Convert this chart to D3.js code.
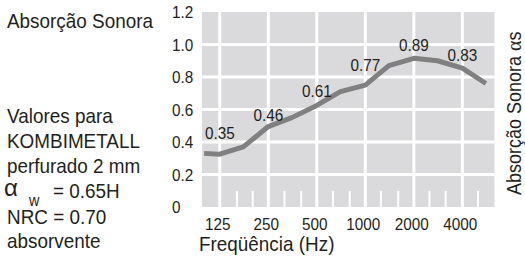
<!DOCTYPE html>
<meta charset="utf-8">
<style>
    body { margin: 0; background: #fff; }
    svg { display: block; }
    text { font-family: "Liberation Sans", Arial, sans-serif; fill: #231f20; }
</style>
<body>
<svg width="525" height="256"></svg>
<script src="https://cdn.jsdelivr.net/npm/d3@7"></script>
<script>
    // curve (Hz, absorption)
    var freqs  = [100, 125, 175, 250, 350, 500, 700, 1000, 1400, 2000, 2800, 4000, 5600]
    var values = [0.33, 0.325, 0.37, 0.495, 0.55, 0.625, 0.71, 0.75, 0.87, 0.915, 0.90, 0.855, 0.76]

    var octaves = [125, 250, 500, 1000, 2000, 4000]
    var thirds  = [160, 200, 315, 400, 630, 800, 1250, 1600, 2500, 3150, 5000]
    var yTicks  = [0, 0.2, 0.4, 0.6, 0.8, 1.0, 1.2]

    var labelFreqs  = [125, 250, 500, 1000, 2000, 4000]
    var labelValues = [0.35, 0.46, 0.61, 0.77, 0.89, 0.83]

    var sideText = ["Valores para", "KOMBIMETALL", "perfurado 2 mm"]

    var svg = d3.select("svg")

    var x = d3.scaleLog().domain([97, 6330]).range([202, 494.5])
    var y = d3.scaleLinear().domain([0, 1.2]).range([207, 12])

    // text helper, font looks condensed so squeeze it a bit
    function label(sel, px, py, s, size, anchor) {
        return sel.append("text")
            .attr("transform", `translate(${px},${py}) scale(0.9,1)`)
            .attr("font-size", size)
            .attr("text-anchor", anchor || "start")
            .text(s)
    }

    // plot background
    svg.append("rect")
        .attr("x", x.range()[0]).attr("y", y.range()[1])
        .attr("width", x.range()[1] - x.range()[0])
        .attr("height", y.range()[0] - y.range()[1])
        .attr("fill", "#dadadc")

    var grid = svg.append("g").attr("stroke", "#fff")
    grid.selectAll(".h").data(yTicks.slice(1, -1)).enter().append("line")
        .attr("x1", x.range()[0]).attr("x2", x.range()[1])
        .attr("y1", d => y(d)).attr("y2", d => y(d))
        .attr("stroke-width", 3)
    grid.selectAll(".v").data(octaves).enter().append("line")
        .attr("x1", d => x(d)).attr("x2", d => x(d))
        .attr("y1", y.range()[1]).attr("y2", y.range()[0])
        .attr("stroke-width", 3)
    grid.selectAll(".t").data(thirds).enter().append("line")
        .attr("x1", d => x(d)).attr("x2", d => x(d))
        .attr("y1", y(0) - 16).attr("y2", y(0))
        .attr("stroke-width", 2)

    // the curve
    var line = d3.line()
        .x((d, i) => x(freqs[i]))
        .y(d => y(d))
    svg.append("path")
        .attr("d", line(values))
        .attr("fill", "none")
        .attr("stroke", "#808080")
        .attr("stroke-width", 5)
        .attr("stroke-linejoin", "round")

    labelValues.forEach(function(v, i) {
        label(svg, x(labelFreqs[i]), y(v) - 11, v.toFixed(2), 17, "middle")
    })

    // axes labels
    yTicks.forEach(function(t) {
        label(svg, 172, y(t) + 6, t === 0 ? "0" : t.toFixed(1), 17, "start")
    })
    octaves.forEach(function(f) {
        label(svg, x(f) - 2, 230, String(f), 17, "middle")
    })
    label(svg, 199, 251, "Freqüência (Hz)", 21, "start")

    // left side notes
    label(svg, 7, 28, "Absorção Sonora", 21, "start")
    sideText.forEach(function(s, i) {
        label(svg, 7, 123 + i * 25, s, 21, "start")
    })
    svg.append("text")
        .attr("x", 4).attr("y", 196)
        .attr("font-family", "Liberation Serif, Times New Roman, serif")
        .attr("font-size", 24)
        .text("α")
    label(svg, 29, 206, "w", 16, "start")
    label(svg, 53, 198, "= 0.65H", 21, "start")
    label(svg, 7, 224, "NRC = 0.70", 21, "start")
    label(svg, 7, 248, "absorvente", 21, "start")

    // rotated right title
    var rt = svg.append("text")
        .attr("transform", "translate(521,195) rotate(-90) scale(0.9,1)")
        .attr("font-size", 20)
    rt.append("tspan").text("Absorção Sonora ")
    rt.append("tspan").attr("font-family", "Liberation Serif, serif")
        .attr("font-size", 22).text("α")
    rt.append("tspan").text("s")
</script>
</body>
